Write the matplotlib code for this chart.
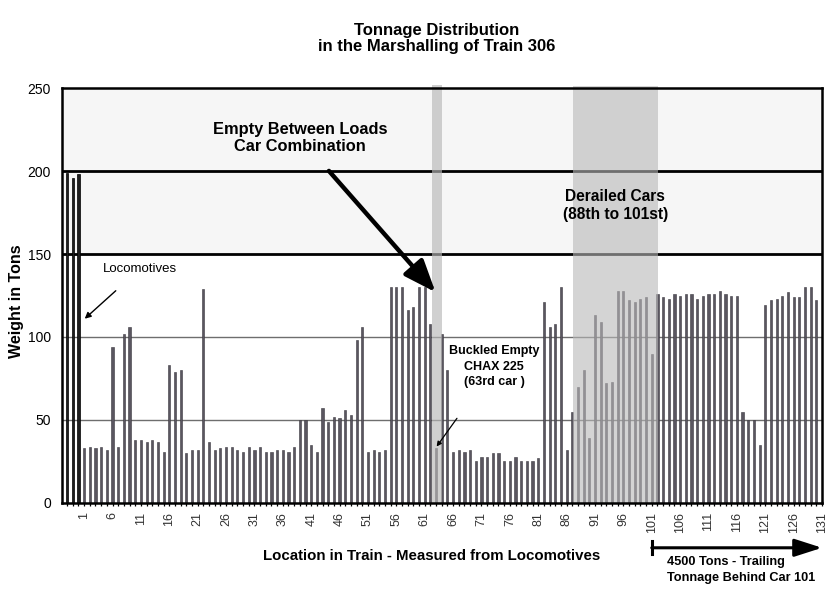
import matplotlib.pyplot as plt
from matplotlib.ticker import FixedLocator, MultipleLocator
import numpy as np

# weights in tons
loco_weights = [199, 196, 198]
car_weights = [
    # cars 1-22
    33, 34, 33, 34, 32, 94, 34, 102, 106, 38, 38, 37, 38, 37, 31, 83, 79, 80, 30, 32, 32, 129,
    # cars 23-50
    37, 32, 33, 34, 34, 32, 31, 34, 32, 34, 31, 31, 32, 32, 31, 34, 50, 50, 35, 31,
    57, 49, 52, 51, 56, 53, 98, 106,
    # cars 51-64
    31, 32, 31, 32, 130, 130, 130, 116, 118, 130, 130, 108, 33, 102,
    # cars 65-81
    80, 31, 32, 31, 32, 25, 28, 28, 30, 30, 25, 25, 28, 25, 25, 25, 27,
    # cars 82-90
    121, 106, 108, 130, 32, 55, 70, 80, 39,
    # cars 91-101
    113, 109, 72, 73, 128, 128, 122, 121, 123, 124, 90,
    # cars 102-116
    126, 124, 123, 126, 125, 126, 126, 123, 125, 126, 126, 128, 126, 125, 125,
    # cars 117-130
    55, 50, 50, 35, 119, 122, 123, 125, 127, 124, 124, 130, 130, 122,
]
tick_labels = list(range(1, 132, 5))
buckled_car = 63
derailed_first, derailed_last = 88, 101

plt.rcParams['font.family'] = ['Liberation Sans', 'DejaVu Sans']

loco_x = np.arange(-len(loco_weights) + 1, 1)
car_x = np.arange(1, len(car_weights) + 1)

fig = plt.figure(figsize=(8.29, 5.90), dpi=100)
ax = fig.add_axes([0.0748, 0.1475, 0.9168, 0.7033])

# shaded upper zone and reference lines
ax.axhspan(150, 250, color='#f6f6f6', zorder=0)
for y in (50, 100):
    ax.axhline(y, color='#6e6e6e', lw=1.0, zorder=1)
for y in (150, 200):
    ax.axhline(y, color='black', lw=2.0, zorder=1)

# bars
ax.bar(loco_x, loco_weights, width=0.45, color='#1e1e1e', edgecolor='black', lw=0.5, zorder=2)
ax.bar(car_x, car_weights, width=0.38, color='#5a5660', edgecolor='#3a373e', lw=0.4, zorder=2)

# gray bands (buckled car and derailed cars)
ax.axvspan(buckled_car - 0.7, buckled_car + 1.0, ymin=0, ymax=1.008, color='#b8b8b8',
           alpha=0.65, lw=0, zorder=3, clip_on=False)
ax.axvspan(derailed_first - 0.8, derailed_last + 1.1, ymin=0, ymax=1.004, color='#b8b8b8',
           alpha=0.6, lw=0, zorder=3, clip_on=False)

ax.set_xlim(-2.9, 131)
ax.set_ylim(0, 250)

for side in ('left', 'bottom', 'right', 'top'):
    ax.spines[side].set_linewidth(1.8)
    ax.spines[side].set_zorder(5)

ax.xaxis.set_major_locator(FixedLocator(tick_labels))
ax.xaxis.set_minor_locator(MultipleLocator(1))
ax.set_xticklabels([str(t) for t in tick_labels], rotation=90, fontsize=9, color='#333333')
ax.tick_params(axis='x', which='both', direction='inout', length=5, width=0.9, pad=4)
ax.set_yticks([0, 50, 100, 150, 200, 250])
ax.tick_params(axis='y', length=0, pad=8, labelsize=10)

fig.text(0.020, 0.49, 'Weight in Tons', rotation=90, ha='center', va='center',
         fontsize=11.5, fontweight='bold')
fig.text(0.521, 0.057, 'Location in Train - Measured from Locomotives', ha='center',
         va='center', fontsize=10.8, fontweight='bold')

fig.text(0.527, 0.934, 'Tonnage Distribution\nin the Marshalling of Train 306', ha='center',
         va='center', fontsize=12, fontweight='bold', linespacing=1.08)

# annotations
ax.annotate('Locomotives', xy=(1.1, 111), xytext=(4.3, 141), fontsize=9.5, ha='left',
            va='center',
            arrowprops=dict(arrowstyle='-|>', color='black', lw=1.0, shrinkA=14, shrinkB=0,
                            mutation_scale=9))

ax.annotate('Empty Between Loads\nCar Combination', xy=(62.9, 127), xytext=(39, 220),
            fontsize=11.8, fontweight='bold', ha='center', va='center', linespacing=1.12,
            arrowprops=dict(arrowstyle='-|>,head_length=1.4,head_width=0.55', color='black',
                            lw=3.2, shrinkA=14, shrinkB=0, mutation_scale=14))

ax.text(94.6, 179, 'Derailed Cars\n(88th to 101st)', fontsize=11.2, fontweight='bold',
        ha='center', va='center', linespacing=1.25, zorder=6)

ax.annotate('Buckled Empty\nCHAX 225\n(63rd car )', xy=(63.1, 34), xytext=(73.2, 82),
            fontsize=9, fontweight='bold', ha='center', va='center', linespacing=1.4, zorder=6,
            arrowprops=dict(arrowstyle='-|>', color='black', lw=0.9, shrinkA=24, shrinkB=0,
                            mutation_scale=7))

# trailing tonnage arrow below the axis
ax.annotate('', xy=(131, -27), xytext=(derailed_last, -27), annotation_clip=False,
            arrowprops=dict(arrowstyle='-|>,head_length=1.4,head_width=0.45', color='black',
                            lw=2.2, shrinkA=0, shrinkB=0, mutation_scale=12))
ax.plot([derailed_last, derailed_last], [-23, -31], color='black', lw=2.2, clip_on=False)
ax.text(derailed_last + 2.6, -32, '4500 Tons - Trailing\nTonnage Behind Car 101',
        fontsize=9.2, fontweight='bold', ha='left', va='top', linespacing=1.45)

fig.savefig('out.png', dpi=100)
